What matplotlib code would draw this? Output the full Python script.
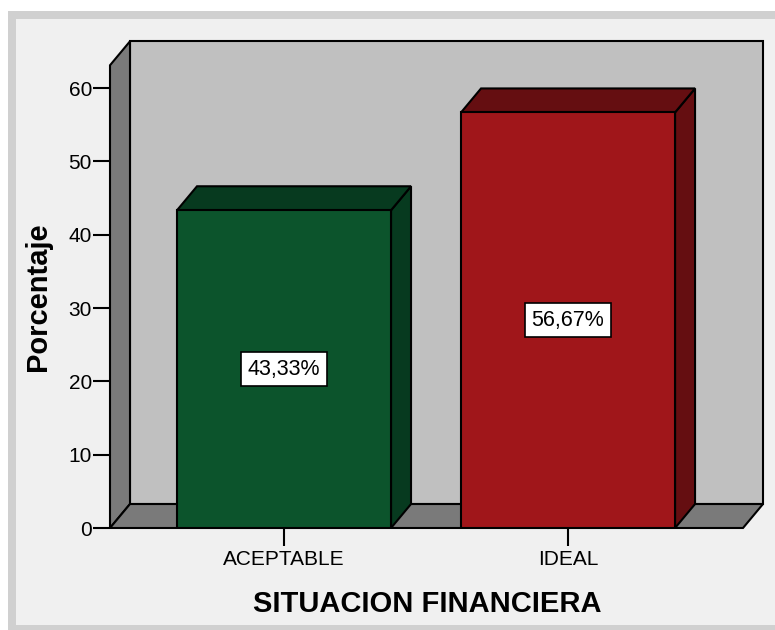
import matplotlib
matplotlib.use("Agg")
import matplotlib.pyplot as plt
from matplotlib.patches import Polygon, Rectangle

# data
categories = ["ACEPTABLE", "IDEAL"]
percentages = [43.33, 56.67]
y_ticks = [0, 10, 20, 30, 40, 50, 60]

front_colors = ["#0c542c", "#a0161a"]
dark_colors = ["#073a1f", "#650e11"]

plt.rcParams["font.family"] = ["Liberation Sans", "DejaVu Sans"]

W, H = 775, 630
fig = plt.figure(figsize=(W / 100, H / 100), dpi=100, facecolor="white")

# outer panel frame (SPSS style)
fig.patches.append(Rectangle((8 / W, 0), 1 - 8 / W, (H - 11) / H,
                             transform=fig.transFigure, facecolor="#d0d0d0",
                             edgecolor="none", zorder=-10))
fig.patches.append(Rectangle((16 / W, 5 / H), 1 - 16 / W, (H - 19 - 5) / H,
                             transform=fig.transFigure, facecolor="#f0f0f0",
                             edgecolor="none", zorder=-9))

# axes placed in pixels: x 110..743, y 88..528 (from top)
ax = fig.add_axes([110 / W, (H - 528) / H, 633 / W, 440 / H])
ax.patch.set_alpha(0)
for s in ax.spines.values():
    s.set_visible(False)

x0, x1 = -0.6127, 1.616
ax.set_xlim(x0, x1)
ax.set_ylim(0, 60)

dx = 0.0704  # depth offset in x units
dy = 3.27    # depth offset in y units
top = 63.1   # front-plane height of the back wall
bar_w = 0.7535

edge = dict(edgecolor="black", linewidth=1.5, clip_on=False)

# back wall
ax.add_patch(Polygon([(x0 + dx, dy), (x1 + dx, dy), (x1 + dx, top + dy), (x0 + dx, top + dy)],
                     closed=True, facecolor="#c0c0c0", zorder=1, **edge))
# left side wall
ax.add_patch(Polygon([(x0, 0), (x0 + dx, dy), (x0 + dx, top + dy), (x0, top)],
                     closed=True, facecolor="#7a7a7a", zorder=2, **edge))
# floor
ax.add_patch(Polygon([(x0, 0), (x1, 0), (x1 + dx, dy), (x0 + dx, dy)],
                     closed=True, facecolor="#7a7a7a", zorder=2, **edge))

xs = list(range(len(categories)))
bars = ax.bar(xs, percentages, width=bar_w, color=front_colors,
              edgecolor="black", linewidth=1.5, zorder=5)

for b, v, dc in zip(bars, percentages, dark_colors):
    l = b.get_x()
    r = l + b.get_width()
    ax.add_patch(Polygon([(r, 0), (r + dx, dy), (r + dx, v + dy), (r, v)],
                         closed=True, facecolor=dc, zorder=4, **edge))
    ax.add_patch(Polygon([(l, v), (r, v), (r + dx, v + dy), (l + dx, v + dy)],
                         closed=True, facecolor=dc, zorder=4, **edge))
    ax.text(b.get_x() + b.get_width() / 2, v / 2,
            f"{v:.2f}%".replace(".", ","), ha="center", va="center",
            fontsize=15.5, color="black", zorder=7,
            bbox=dict(boxstyle="square,pad=0.3", facecolor="white",
                      edgecolor="black", linewidth=1.2))

ax.set_yticks(y_ticks)
ax.set_yticklabels([str(t) for t in y_ticks])
ax.set_xticks(xs)
ax.set_xticklabels(categories)
ax.tick_params(axis="y", length=12, width=1.5, labelsize=15, pad=1, color="black")
ax.tick_params(axis="x", length=13, width=1.5, labelsize=15, pad=3, color="black")

fig.text(38 / W, (H - 297) / H, "Porcentaje", rotation=90, ha="center",
         va="center", fontsize=21, fontweight="bold")
fig.text(427 / W, (H - 604) / H, "SITUACION FINANCIERA", ha="center",
         va="center", fontsize=21, fontweight="bold")

fig.savefig("out.png", dpi=100, facecolor="white")
